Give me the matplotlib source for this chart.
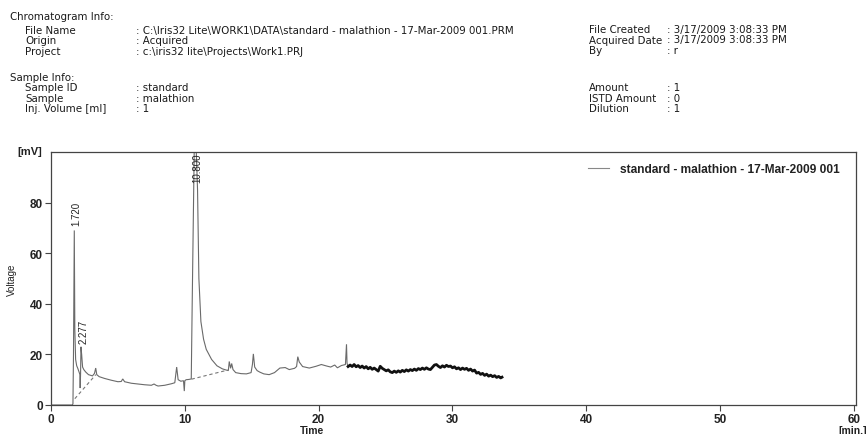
import matplotlib
matplotlib.use("Agg")
import matplotlib.pyplot as plt
from matplotlib.lines import Line2D

plt.rcParams['font.family'] = ['Liberation Sans', 'DejaVu Sans']

# ---- data ----
time_main = [0.0, 1.60, 1.64, 1.68, 1.74, 1.78, 1.84, 1.92, 2.00, 2.10, 2.16, 2.18, 2.21, 2.24, 2.29,
             2.36, 2.45, 2.60, 2.80, 3.10, 3.25, 3.34, 3.42, 3.60, 4.00, 4.50, 5.00, 5.25, 5.36, 5.50,
             6.00, 6.50, 7.00, 7.50, 7.70, 7.85, 8.00, 8.50, 9.00, 9.25, 9.39, 9.50, 9.70, 9.90, 9.96,
             10.00, 10.10, 10.30, 10.48, 10.55, 10.70, 10.85, 10.95, 11.05, 11.20, 11.40, 11.60, 12.00,
             12.40, 12.80, 13.10, 13.25, 13.32, 13.42, 13.50, 13.60, 13.80, 14.20, 14.60, 14.95, 15.05,
             15.12, 15.22, 15.40, 15.60, 15.90, 16.30, 16.70, 17.10, 17.50, 17.80, 18.20, 18.35, 18.44,
             18.55, 18.80, 19.30, 19.80, 20.20, 20.60, 20.90, 21.20, 21.40, 21.70, 22.00, 22.08, 22.12,
             22.20]
volt_main = [0.0, 0.0, 0.5, 20.0, 69.0, 30.0, 18.0, 15.5, 14.5, 13.0, 12.0, 6.7, 12.5, 23.0, 20.0,
             15.0, 14.0, 13.0, 12.0, 11.5, 12.5, 14.6, 12.0, 11.2, 10.5, 9.8, 9.2, 9.3, 10.3, 9.2,
             8.6, 8.3, 8.0, 7.8, 8.3, 7.8, 7.5, 7.8, 8.4, 8.8, 15.0, 10.0, 9.4, 9.6, 5.5,
             9.6, 10.0, 10.1, 10.3, 40.0, 100.0, 101.0, 85.0, 50.0, 33.0, 26.0, 22.0, 18.0,
             15.5, 14.3, 13.8, 13.6, 17.2, 14.5, 16.4, 14.0, 12.8, 12.4, 12.3, 12.8, 16.0,
             20.2, 15.0, 13.6, 13.0, 12.3, 12.0, 12.8, 14.6, 14.8, 14.0, 14.5, 15.2, 19.1,
             17.0, 15.2, 14.6, 15.3, 16.0, 15.4, 15.0, 15.8, 14.7, 15.6, 16.0, 24.0, 16.5,
             15.2]

time_noisy = [22.20, 22.35, 22.50, 22.65, 22.80, 22.95, 23.10, 23.25, 23.40, 23.55, 23.70, 23.85,
              24.00, 24.15, 24.30, 24.45, 24.60, 24.75, 24.90, 25.05, 25.20, 25.35, 25.50, 25.65,
              25.80, 25.95, 26.10, 26.25, 26.40, 26.55, 26.70, 26.85, 27.00, 27.15, 27.30, 27.45,
              27.60, 27.75, 27.90, 28.05, 28.20, 28.35, 28.50, 28.65, 28.80, 28.95, 29.10, 29.25,
              29.40, 29.55, 29.70, 29.85, 30.00, 30.15, 30.30, 30.45, 30.60, 30.75, 30.90, 31.05,
              31.20, 31.35, 31.50, 31.65, 31.80, 31.95, 32.10, 32.25, 32.40, 32.55, 32.70, 32.85,
              33.00, 33.15, 33.30, 33.45, 33.60, 33.70]
volt_noisy = [15.2, 15.8, 15.2, 16.0, 15.1, 15.6, 14.8, 15.4, 14.6, 15.2, 14.3, 14.9,
              14.1, 14.6, 14.0, 13.4, 15.3, 14.5, 14.0, 13.5, 13.9, 13.1, 12.8, 13.4,
              12.9, 13.5, 13.0, 13.7, 13.2, 13.9, 13.4, 14.0, 13.6, 14.2, 13.7, 14.4,
              14.0, 14.6, 14.1, 14.7, 14.2, 14.0, 14.9, 15.8, 16.0, 15.3, 14.8, 15.5,
              15.0, 15.7, 15.2, 15.4, 14.7, 15.1, 14.3, 14.7, 14.0, 14.6, 14.1, 14.5,
              13.7, 14.2, 13.4, 13.8, 12.6, 12.9, 12.1, 12.5, 11.7, 12.2, 11.4, 11.8,
              11.2, 11.6, 10.9, 11.3, 10.7, 11.0]

baseline1_t = [1.78, 3.35]
baseline1_v = [2.5, 12.0]
baseline2_t = [10.50, 13.20]
baseline2_v = [10.2, 13.8]

peak_labels = ["1.720", "2.277", "10.800"]
peak_label_t = [1.87, 2.42, 10.93]
peak_label_v = [71.0, 24.5, 88.0]

x_ticks = [0, 10, 20, 30, 40, 50, 60]
y_ticks = [0, 20, 40, 60, 80]
legend_label = "standard - malathion - 17-Mar-2009 001"

header_left = [("Chromatogram Info:", None, 0), ("File Name", ": C:\\Iris32 Lite\\WORK1\\DATA\\standard - malathion - 17-Mar-2009 001.PRM", 1),
               ("Origin", ": Acquired", 1), ("Project", ": c:\\iris32 lite\\Projects\\Work1.PRJ", 1),
               ("Sample Info:", None, 0), ("Sample ID", ": standard", 1), ("Sample", ": malathion", 1),
               ("Inj. Volume [ml]", ": 1", 1)]
header_left_y = [17, 31, 41.5, 52, 78, 88, 98.5, 109]
header_right = [("File Created", ": 3/17/2009 3:08:33 PM"), ("Acquired Date", ": 3/17/2009 3:08:33 PM"),
                ("By", ": r"), ("Amount", ": 1"), ("ISTD Amount", ": 0"), ("Dilution", ": 1")]
header_right_y = [30, 40.5, 51, 88, 98.5, 109]

# ---- figure ----
W, H = 867, 435
fig = plt.figure(figsize=(W / 100, H / 100), dpi=100)
ax = fig.add_axes([51 / W, 1 - 406 / H, (856 - 51) / W, (406 - 153) / H])

ax.plot(time_main, volt_main, color='#6a6a6a', lw=0.8, solid_joinstyle='miter')
ax.plot(time_noisy, volt_noisy, color='#111111', lw=2.0)
ax.plot(baseline1_t, baseline1_v, color='#777777', lw=0.8, ls=(0, (3, 2.5)))
ax.plot(baseline2_t, baseline2_v, color='#777777', lw=0.8, ls=(0, (3, 2.5)))

for lab, t, v in zip(peak_labels, peak_label_t, peak_label_v):
    ax.text(t, v, lab, rotation=90, ha='center', va='bottom', fontsize=7, color='#222222')

ax.set_xlim(0, 60.15)
ax.set_ylim(0, 100)
ax.set_xticks(x_ticks)
ax.set_yticks(y_ticks)
ax.tick_params(direction='out', length=4, width=0.8, color='#444444', labelsize=8.5,
               labelcolor='#222222', pad=2)
for lbl in ax.get_xticklabels() + ax.get_yticklabels():
    lbl.set_fontweight('bold')
for sp in ax.spines.values():
    sp.set_color('#444444')
    sp.set_linewidth(0.9)

handle = Line2D([0], [0], color='#888888', lw=0.8)
leg = ax.legend([handle], [legend_label], loc='upper right', frameon=False,
                handlelength=1.8, handletextpad=0.85, borderaxespad=0.5,
                bbox_to_anchor=(1.0 - 6 / (856 - 51), 1.0),
                prop={'size': 8.6, 'weight': 'bold'})
for t in leg.get_texts():
    t.set_color('#222222')

fig.text(12 / W, 1 - 280 / H, "Voltage", rotation=90, ha='center', va='center', fontsize=7, color='#222222')
fig.text(312 / W, 1 - 431 / H, "Time", ha='center', va='center', fontsize=7.5, fontweight='bold', color='#222222')
fig.text(30 / W, 1 - 152 / H, "[mV]", ha='center', va='center', fontsize=8, fontweight='bold', color='#222222')
fig.text(853 / W, 1 - 431 / H, "[min.]", ha='center', va='center', fontsize=7.5, fontweight='bold', color='#222222')

# header
HS = 7.4
HF = ['DejaVu Sans']
for (lab, val, lvl), y in zip(header_left, header_left_y):
    x = 10 if lvl == 0 else 25
    fig.text(x / W, 1 - y / H, lab, ha='left', va='center', fontsize=HS, family=HF, color='#1a1a1a')
    if val:
        fig.text(136 / W, 1 - y / H, val, ha='left', va='center', fontsize=HS, family=HF, color='#1a1a1a')
for (lab, val), y in zip(header_right, header_right_y):
    fig.text(589 / W, 1 - y / H, lab, ha='left', va='center', fontsize=HS, family=HF, color='#1a1a1a')
    fig.text(667 / W, 1 - y / H, val, ha='left', va='center', fontsize=HS, family=HF, color='#1a1a1a')

fig.savefig("out.png", dpi=100)
